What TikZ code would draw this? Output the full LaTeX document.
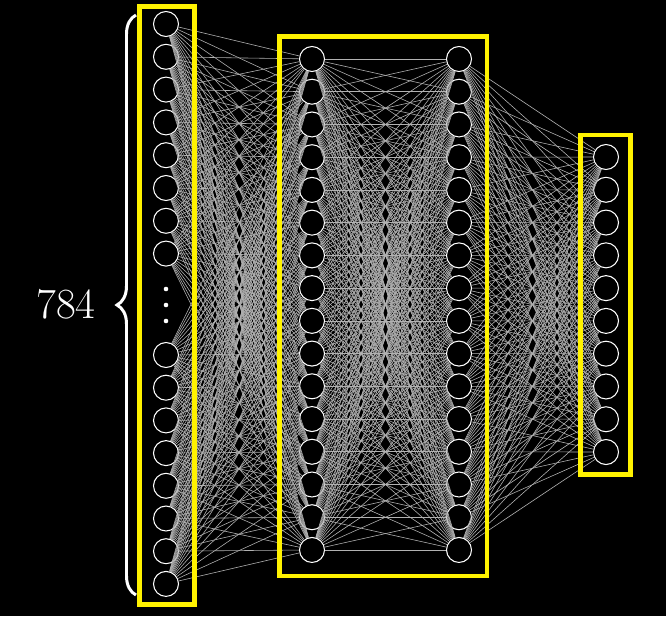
\documentclass[tikz,border=0pt]{standalone}
\usetikzlibrary{decorations.pathreplacing}
\tikzset{
  neuron/.style={
    circle,
    draw=white,
    fill=black,
    line width=0.6pt,
    minimum size=0.5cm,
    inner sep=0pt
  },
  synapse/.style={
    draw=white!70!black,
    line width=0.33pt
  },
  layerbox/.style={
    draw=yellow,
    line width=2.8pt
  },
  dotmark/.style={
    circle,
    fill=white,
    inner sep=0pt,
    minimum size=2.6pt
  }
}

\begin{document}
\begin{tikzpicture}[x=0.02cm,y=-0.02cm]
  % Frame and background
  \useasboundingbox (0,0) rectangle (666,616);
  \fill[black] (0,0) rectangle (666,616);

  % Input layer: two groups with dots between
  \foreach \n in {1,...,8} {
    \node[neuron] (i\n) at (166,{24+32.8*(\n-1)}) {};
  }
  \foreach \n in {9,...,16} {
    \node[neuron] (i\n) at (166,{355+32.7*(\n-9)}) {};
  }
  \node[dotmark] (d1) at (166,289) {};
  \node[dotmark] (d2) at (166,305) {};
  \node[dotmark] (d3) at (166,321) {};

  % Hidden layers
  \foreach \n in {1,...,16} {
    \node[neuron] (h\n) at (312,{59+32.73*(\n-1)}) {};
    \node[neuron] (g\n) at (459,{59+32.73*(\n-1)}) {};
  }

  % Output layer
  \foreach \n in {1,...,10} {
    \node[neuron] (o\n) at (606,{157+32.78*(\n-1)}) {};
  }

  % Connections
  \foreach \a in {1,...,16} {
    \foreach \b in {1,...,16} {
      \draw[synapse] (i\a) -- (h\b);
      \draw[synapse] (h\a) -- (g\b);
    }
    \foreach \b in {1,...,10} {
      \draw[synapse] (g\a) -- (o\b);
    }
  }

  % Layer boxes
  \draw[layerbox] (139.5,6.5) rectangle (194.5,604.5);
  \draw[layerbox] (279.5,36.5) rectangle (487,576);
  \draw[layerbox] (580.5,135) rectangle (630.5,474.5);

  % Brace with input count
  \coordinate (bracebot) at (136,595);
  \coordinate (bracetop) at (136,15);
  \draw[white, line width=1.7pt, decorate, decoration={brace, amplitude=0.38cm}]
    (bracebot) -- (bracetop);
  \node[text=white, font=\fontsize{24.5}{29}\selectfont] (count) at (66,304) {784};
\end{tikzpicture}
\end{document}
